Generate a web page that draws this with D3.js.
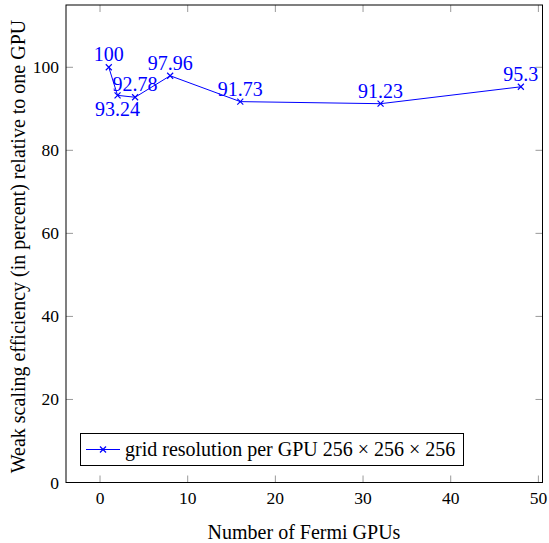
<!DOCTYPE html>
<html><head><meta charset="utf-8">
<script src="https://cdn.jsdelivr.net/npm/d3@7"></script>
<style>body{margin:0;background:#fff}svg{display:block}</style>
</head><body>
<svg id="c" width="549" height="543"></svg>
<script>
const gpus = [1, 2, 4, 8, 16, 32, 48];
const efficiency = [100, 93.24, 92.78, 97.96, 91.73, 91.23, 95.3];
const pointLabels = ["100", "93.24", "92.78", "97.96", "91.73", "91.23", "95.3"];
const labelBelow = [false, true, false, false, false, false, false];
const xTicks = [0, 10, 20, 30, 40, 50];
const yTicks = [0, 20, 40, 60, 80, 100];
const seriesName = "grid resolution per GPU 256 \u00d7 256 \u00d7 256";

const FF = "\"Liberation Serif\"";
const svg = d3.select("#c");
const L = 66, R = 542.5, T = 5, B = 482.5;
const x = d3.scaleLinear().domain([-3.88, 50.47]).range([L, R]);
const y = d3.scaleLinear().domain([0, 115]).range([B, T]);
const blue = "#0000ff";

// ticks (gray, inside, on all sides)
const tk = 7;
const g = svg.append("g").attr("stroke", "#9a9a9a").attr("stroke-width", 1);
xTicks.forEach(v => {
  g.append("line").attr("x1", x(v)).attr("x2", x(v)).attr("y1", B).attr("y2", B - tk);
  g.append("line").attr("x1", x(v)).attr("x2", x(v)).attr("y1", T).attr("y2", T + tk);
});
yTicks.forEach(v => {
  g.append("line").attr("y1", y(v)).attr("y2", y(v)).attr("x1", L).attr("x2", L + tk);
  g.append("line").attr("y1", y(v)).attr("y2", y(v)).attr("x1", R).attr("x2", R - tk);
});

// frame
svg.append("rect").attr("x", L).attr("y", T).attr("width", R - L).attr("height", B - T)
  .attr("fill", "none").attr("stroke", "#000").attr("stroke-width", 1);

// tick labels
svg.append("g").selectAll("text").data(xTicks).join("text")
  .style("font-family", FF)
  .attr("x", d => x(d)).attr("y", 503.5).attr("text-anchor", "middle")
  .attr("font-size", 17.5).text(d => d);
svg.append("g").selectAll("text").data(yTicks).join("text")
  .style("font-family", FF)
  .attr("x", 59).attr("y", d => y(d) + 6).attr("text-anchor", "end")
  .attr("font-size", 17.5).text(d => d);

// axis titles
svg.append("text").style("font-family", FF).attr("x", 304).attr("y", 538.5).attr("text-anchor", "middle")
  .attr("font-size", 20).text("Number of Fermi GPUs");
svg.append("text").style("font-family", FF).attr("transform", "translate(25,246.5) rotate(-90)")
  .attr("text-anchor", "middle").attr("font-size", 20)
  .text("Weak scaling efficiency (in percent) relative to one GPU");

// line
const pts = gpus.map((g, i) => [g, efficiency[i]]);
svg.append("path").datum(pts)
  .attr("d", d3.line().x(d => x(d[0])).y(d => y(d[1])))
  .attr("fill", "none").attr("stroke", blue).attr("stroke-width", 1);

// markers
const m = 3;
const mk = svg.append("g").attr("stroke", blue).attr("stroke-width", 1.2);
pts.forEach(p => {
  const cx = x(p[0]), cy = y(p[1]);
  mk.append("line").attr("x1", cx - m).attr("y1", cy - m).attr("x2", cx + m).attr("y2", cy + m);
  mk.append("line").attr("x1", cx - m).attr("y1", cy + m).attr("x2", cx + m).attr("y2", cy - m);
});

// point labels
svg.append("g").selectAll("text").data(pts).join("text")
  .style("font-family", FF)
  .attr("x", d => x(d[0])).attr("y", (d, i) => labelBelow[i] ? y(d[1]) + 21 : y(d[1]) - 6)
  .attr("text-anchor", "middle").attr("font-size", 20).attr("fill", blue)
  .text((d, i) => pointLabels[i]);

// legend
const lg = svg.append("g");
lg.append("rect").attr("x", 80.5).attr("y", 433.5).attr("width", 383).attr("height", 32)
  .attr("fill", "#fff").attr("stroke", "#000").attr("stroke-width", 1);
lg.append("line").attr("x1", 86).attr("x2", 120).attr("y1", 449.5).attr("y2", 449.5)
  .attr("stroke", blue).attr("stroke-width", 1);
lg.append("line").attr("x1", 103 - m).attr("x2", 103 + m).attr("y1", 449.5 - m).attr("y2", 449.5 + m).attr("stroke", blue).attr("stroke-width", 1.2);
lg.append("line").attr("x1", 103 - m).attr("x2", 103 + m).attr("y1", 449.5 + m).attr("y2", 449.5 - m).attr("stroke", blue).attr("stroke-width", 1.2);
lg.append("text").style("font-family", FF).attr("x", 125).attr("y", 456).attr("font-size", 20).text(seriesName);
</script>
</body></html>
